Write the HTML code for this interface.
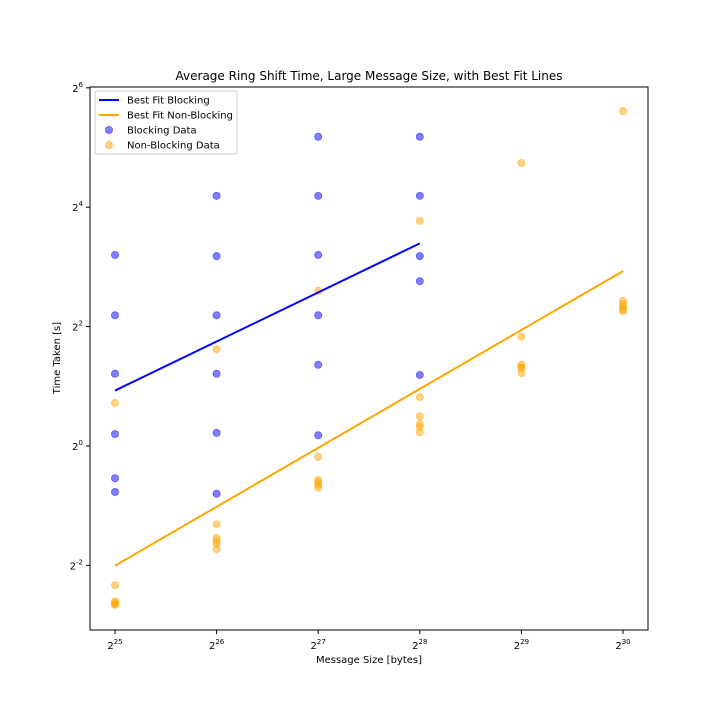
<!DOCTYPE html>
<html><head><meta charset="utf-8"><style>
body{margin:0;background:#fff;font-family:"Liberation Sans","DejaVu Sans",sans-serif}
svg text{font-family:"DejaVu Sans","Liberation Sans",sans-serif}
</style></head><body>
<svg id="chart" width="720" height="720" viewBox="0 0 720 720" xmlns="http://www.w3.org/2000/svg">
<rect width="720" height="720" fill="#fff"/>
<g id="plot"></g>
</svg>
<script>
const xExps = [25, 26, 27, 28, 29, 30];
const yTickExps = [-2, 0, 2, 4, 6];
const blockingX = [25,25,25,25,25,25, 26,26,26,26,26,26, 27,27,27,27,27,27, 28,28,28,28,28];
const blockingY = [3.2,2.19,1.21,0.2,-0.54,-0.77, 4.19,3.18,2.19,1.21,0.22,-0.8, 5.18,4.19,3.2,2.19,1.36,0.18, 5.18,4.19,3.18,2.76,1.19];
const nonBlockingX = [25,25,25,25,25,25, 26,26,26,26,26,26, 27,27,27,27,27,27, 28,28,28,28,28,28, 29,29,29,29,29,29, 30,30,30,30,30,30];
const nonBlockingY = [0.72,-2.33,-2.6,-2.63,-2.65,-2.66, 1.62,-1.31,-1.54,-1.59,-1.64,-1.73, 2.6,-0.18,-0.57,-0.6,-0.65,-0.7, 3.77,0.82,0.5,0.37,0.32,0.23, 4.74,1.83,1.36,1.32,1.31,1.22, 5.61,2.43,2.38,2.33,2.29,2.26];

const NS="http://www.w3.org/2000/svg";
const g=document.getElementById('plot');
const L=90,R=648,T=87,B=630;
function xs(e){return 115+(e-25)*101.6;}
function ys(e){return 446-e*59.7;}
function mk(tag,attrs,parent){const el=document.createElementNS(NS,tag);for(const k in attrs)el.setAttribute(k,attrs[k]);(parent||g).appendChild(el);return el;}
function fit(xa,ya){const n=xa.length;let mx=0,my=0;for(let i=0;i<n;i++){mx+=xa[i];my+=ya[i];}mx/=n;my/=n;let sxy=0,sxx=0;for(let i=0;i<n;i++){sxy+=(xa[i]-mx)*(ya[i]-my);sxx+=(xa[i]-mx)**2;}const m=sxy/sxx;return [m,my-m*mx];}

const frame=mk('rect',{x:L,y:T,width:R-L,height:B-T,fill:'none',stroke:'#000','stroke-width':1});



xExps.forEach(e=>{
  const x=xs(e);
  const t=mk('line',{x1:x,x2:x,y1:B,y2:B+4,stroke:'#000'});
  
  
  const tx=mk('text',{x:x,y:B+19,'font-size':10,'text-anchor':'middle'});
  
  
  tx.innerHTML='2<tspan dy="-5" font-size="7">'+e+'</tspan>';
});
yTickExps.forEach(e=>{
  const y=ys(e);
  const t=mk('line',{x1:L-4,x2:L,y1:y,y2:y,stroke:'#000'});
  
  
  const tx=mk('text',{x:L-7,y:y+4,'font-size':10,'text-anchor':'end'});
  
  
  tx.innerHTML='2<tspan dy="-5" font-size="7">'+e+'</tspan>';
});

function scatter(xa,ya,color,name){
  for(let i=0;i<xa.length;i++){
    const c=mk('circle',{cx:xs(xa[i]),cy:ys(ya[i]),r:3.6,fill:color,'fill-opacity':0.5,stroke:color,'stroke-opacity':0.5,'stroke-width':0.8});
    
    
  }
}
scatter(blockingX,blockingY,'#0000ff','blocking-point');
scatter(nonBlockingX,nonBlockingY,'#ffa500','non-blocking-point');

function fitLine(xa,ya,color,name){
  const [m,b]=fit(xa,ya);const x0=Math.min(...xa),x1=Math.max(...xa);
  const l=mk('line',{x1:xs(x0),y1:ys(m*x0+b),x2:xs(x1),y2:ys(m*x1+b),stroke:color,'stroke-width':2});
  
  
}
fitLine(blockingX,blockingY,'#0000ff','best-fit-blocking-line');
fitLine(nonBlockingX,nonBlockingY,'#ffa500','best-fit-non-blocking-line');

const ti=mk('text',{x:369,y:80,'font-size':12,'text-anchor':'middle'});ti.textContent='Average Ring Shift Time, Large Message Size, with Best Fit Lines';


const xt=mk('text',{x:369,y:663,'font-size':10,'text-anchor':'middle'});xt.textContent='Message Size [bytes]';


const yt=mk('text',{x:60,y:358,'font-size':10,'text-anchor':'middle',transform:'rotate(-90 60 358)'});yt.textContent='Time Taken [s]';



const lg=mk('g',{});


mk('rect',{x:95,y:91,width:142,height:63,rx:2,fill:'#fff',stroke:'#ccc'},lg);
const entries=[['line','#0000ff','Best Fit Blocking'],['line','#ffa500','Best Fit Non-Blocking'],['dot','#0000ff','Blocking Data'],['dot','#ffa500','Non-Blocking Data']];
entries.forEach((en,i)=>{
  const y=100+i*15;
  const eg=mk('g',{},lg);
  
  
  if(en[0]==='line')mk('line',{x1:99,x2:119,y1:y,y2:y,stroke:en[1],'stroke-width':2},eg);
  else mk('circle',{cx:109,cy:y,r:3.6,fill:en[1],'fill-opacity':0.5,stroke:en[1],'stroke-opacity':0.5,'stroke-width':0.8},eg);
  const t=mk('text',{x:127,y:y+3.5,'font-size':10},eg);t.textContent=en[2];
});
</script>
</body></html>
